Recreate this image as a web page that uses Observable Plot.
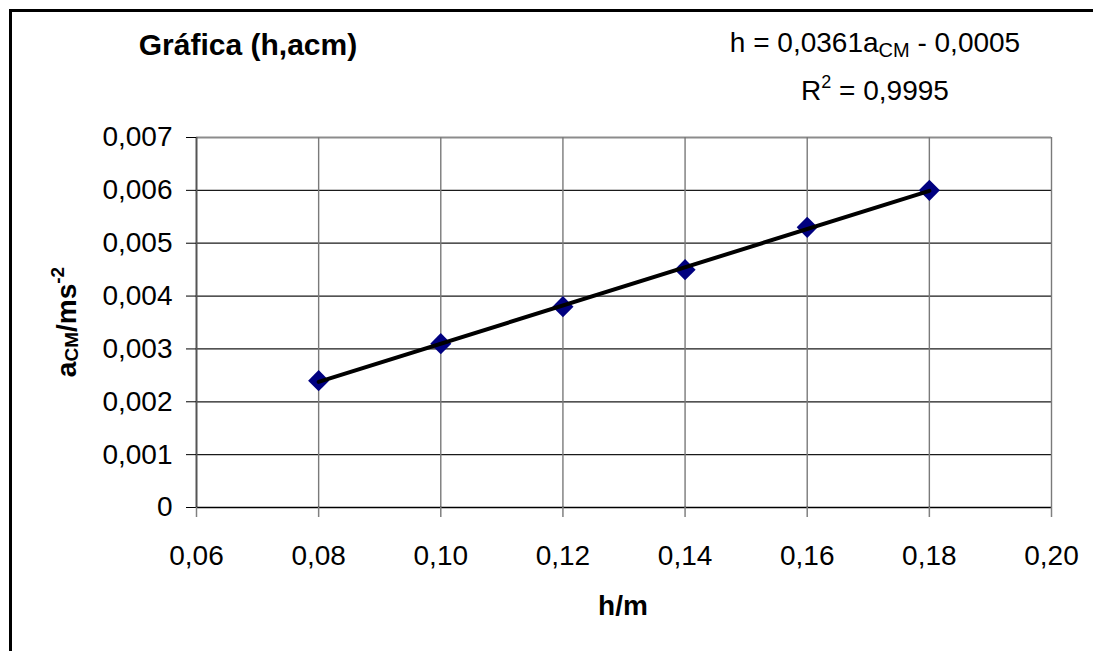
<!DOCTYPE html>
<html>
<head>
<meta charset="utf-8">
<script src="https://cdn.jsdelivr.net/npm/d3@7"></script>
<script src="https://cdn.jsdelivr.net/npm/@observablehq/plot@0.6"></script>
<style>
  html, body { margin: 0; padding: 0; background: white; overflow: hidden; }
  #chart svg { display: block; }
</style>
</head>
<body>
<div id="chart"></div>
<script>
// ---- Data ----
const hValues = [0.08, 0.10, 0.12, 0.14, 0.16, 0.18];
const aValues = [0.0024, 0.0031, 0.0038, 0.0045, 0.0053, 0.0060];
const xTicks = [0.06, 0.08, 0.10, 0.12, 0.14, 0.16, 0.18, 0.20];
const yTicks = [0, 0.001, 0.002, 0.003, 0.004, 0.005, 0.006, 0.007];
const titleText = "Gráfica (h,acm)";
const xLabel = "h/m";
const eqParts = ["h = 0,0361a", "CM", " - 0,0005"];
const r2Parts = ["R", "2", " = 0,9995"];
const yLabelParts = ["a", "CM", "/ms", "-2"];

const data = hValues.map((h, i) => ({h, a: aValues[i]}));

const loc = d3.formatLocale({decimal: ",", thousands: ".", grouping: [3], currency: ["", ""]});
const fx = loc.format(".2f");
const f3 = loc.format(".3f");
const fy = d => d === 0 ? "0" : f3(d);

const FONT = "'Liberation Sans', Arial, sans-serif";

const chart = Plot.plot({
  width: 1093,
  height: 651,
  marginLeft: 196,
  marginRight: 42,
  marginTop: 137,
  marginBottom: 144,
  style: {fontFamily: FONT, fontSize: "28px", color: "#000", background: "white", overflow: "hidden"},
  x: {domain: [0.06, 0.20]},
  y: {domain: [0, 0.007]},
  marks: [
    Plot.ruleY(yTicks.filter(d => d > 0 && d < 0.007), {stroke: "#1a1a1a", strokeWidth: 1.2}),
    Plot.ruleY([yTicks[yTicks.length - 1]], {stroke: "#8c8c8c", strokeWidth: 2}),
    Plot.ruleX(xTicks.filter(d => d > 0.06), {stroke: "#7a7a7a", strokeWidth: 1.4}),
    Plot.ruleX([xTicks[0]], {stroke: "#555", strokeWidth: 2}),
    Plot.ruleY([yTicks[0]], {stroke: "#000", strokeWidth: 1.6}),
    Plot.axisY({ticks: yTicks, tickSize: 10, tickPadding: 14, tickFormat: fy, label: null, fontSize: 28, stroke: "#000", fill: "#000"}),
    Plot.axisX({ticks: xTicks, tickSize: 10, tickPadding: 28, tickFormat: fx, label: null, fontSize: 28, stroke: "#808080", strokeWidth: 1.5, fill: "#000"}),
    Plot.dot(data, {x: "h", y: "a", symbol: "diamond2", r: 9.5, fill: "#000080", stroke: "none"}),
    Plot.linearRegressionY(data, {x: "h", y: "a", stroke: "#000", strokeWidth: 4, ci: 0})
  ]
});

document.getElementById("chart").appendChild(chart);

const svg = d3.select(chart);

// outer chart border: only top and left edges are visible in the frame
svg.append("path")
  .attr("d", "M10.5,660V10.5H1100")
  .attr("fill", "none").attr("stroke", "#000").attr("stroke-width", 3);

// title
svg.append("text")
  .attr("x", 248).attr("y", 55)
  .attr("text-anchor", "middle")
  .attr("font-family", FONT).attr("font-size", 30).attr("font-weight", "bold")
  .attr("fill", "#000")
  .text(titleText);

// equation
const eq = svg.append("text")
  .attr("x", 875).attr("y", 52)
  .attr("text-anchor", "middle")
  .attr("font-family", FONT).attr("font-size", 28).attr("fill", "#000");
eq.append("tspan").text(eqParts[0]);
eq.append("tspan").attr("font-size", 20).attr("dy", 5).text(eqParts[1]);
eq.append("tspan").attr("dy", -5).text(eqParts[2]);

const r2 = svg.append("text")
  .attr("x", 875).attr("y", 100)
  .attr("text-anchor", "middle")
  .attr("font-family", FONT).attr("font-size", 28).attr("fill", "#000");
r2.append("tspan").text(r2Parts[0]);
r2.append("tspan").attr("font-size", 18).attr("dy", -12).text(r2Parts[1]);
r2.append("tspan").attr("dy", 12).text(r2Parts[2]);

// x axis label
svg.append("text")
  .attr("x", 623).attr("y", 615)
  .attr("text-anchor", "middle")
  .attr("font-family", FONT).attr("font-size", 28).attr("font-weight", "bold")
  .attr("fill", "#000")
  .text(xLabel);

// y axis label
const yl = svg.append("text")
  .attr("transform", "translate(76,322) rotate(-90)")
  .attr("text-anchor", "middle")
  .attr("font-family", FONT).attr("font-size", 28).attr("font-weight", "bold")
  .attr("fill", "#000");
yl.append("tspan").text(yLabelParts[0]);
yl.append("tspan").attr("font-size", 19).attr("dy", 2).text(yLabelParts[1]);
yl.append("tspan").attr("dy", -2).text(yLabelParts[2]);
yl.append("tspan").attr("font-size", 19).attr("dy", -12).text(yLabelParts[3]);
</script>
</body>
</html>
